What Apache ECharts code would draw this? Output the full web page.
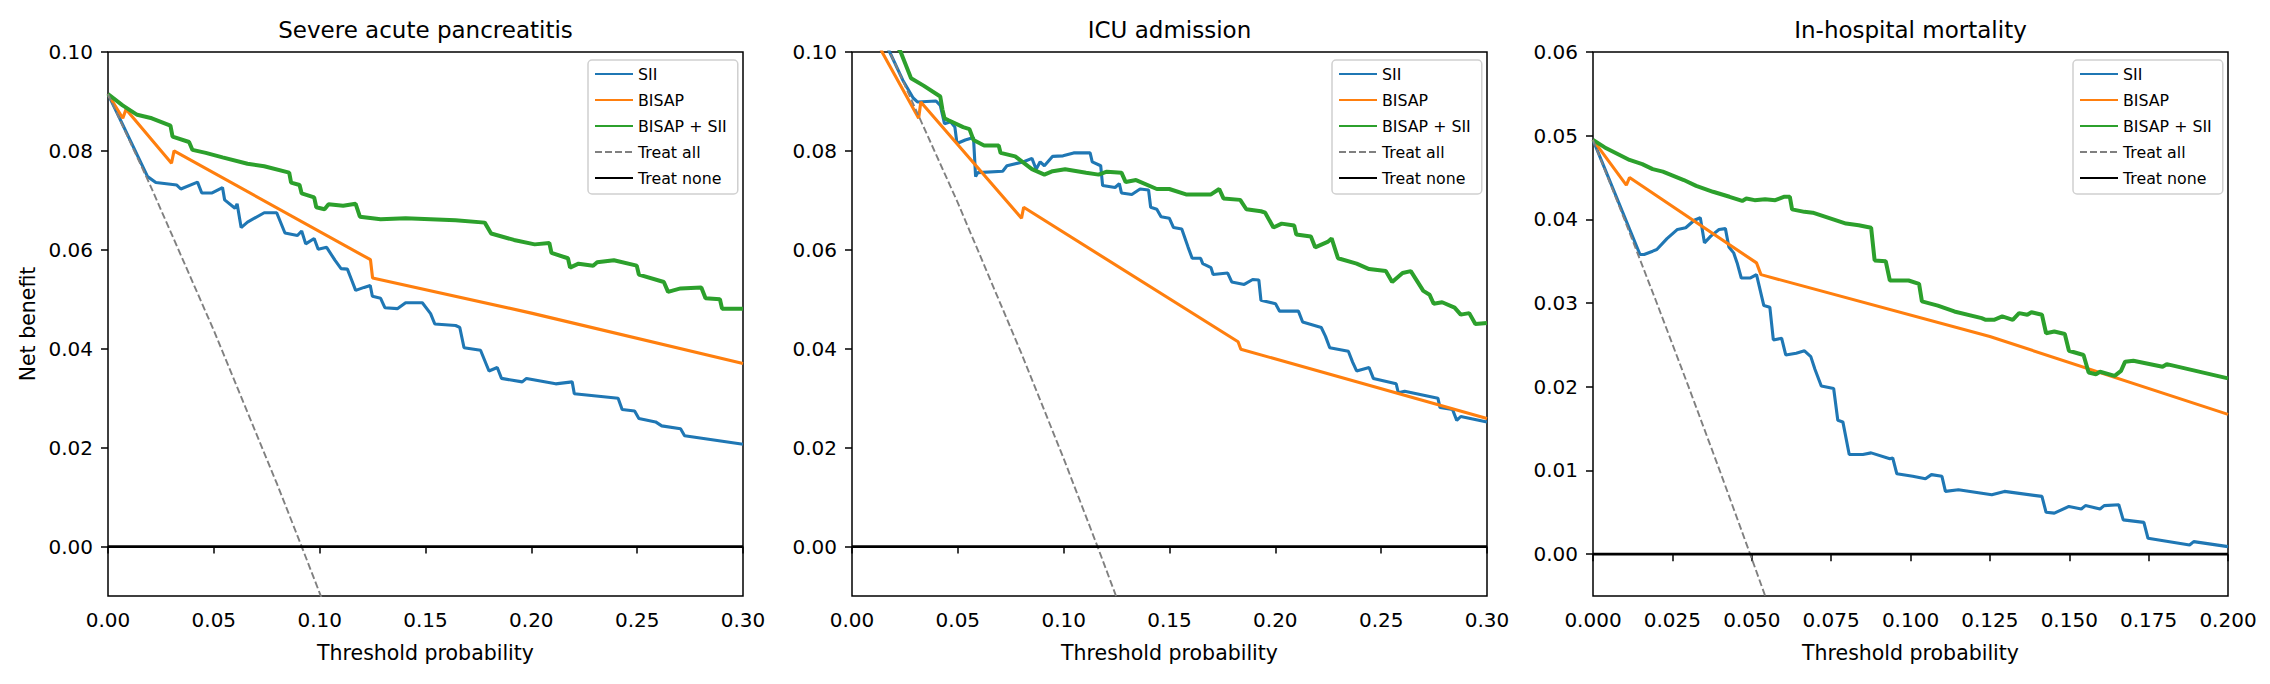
<!DOCTYPE html>
<html><head><meta charset="utf-8">
<script src="https://cdn.jsdelivr.net/npm/echarts@6/dist/echarts.min.js"></script>
<style>html,body{margin:0;padding:0;background:#fff}#c{width:2270px;height:684px}</style>
</head><body><div id="c"></div>
<script>
// ---------- DATA ----------
const panelTitles = ['Severe acute pancreatitis', 'ICU admission', 'In-hospital mortality'];
const seriesNames = ['SII', 'BISAP', 'BISAP + SII', 'Treat all', 'Treat none'];
const xMax = [0.30, 0.30, 0.20];
const xInterval = [0.05, 0.05, 0.025];
const xDecimals = [2, 2, 3];
const yMin = [-0.01, -0.01, -0.005];
const yMax = [0.10, 0.10, 0.06];
const yTickValues = [
  [0.00, 0.02, 0.04, 0.06, 0.08, 0.10],
  [0.00, 0.02, 0.04, 0.06, 0.08, 0.10],
  [0.00, 0.01, 0.02, 0.03, 0.04, 0.05, 0.06]
];

// Panel 1: Severe acute pancreatitis
const sapSII = [[0,0.0915],[0.0187,0.0748],[0.0226,0.0736],[0.0325,0.0731],[0.0344,0.0723],[0.0423,0.0737],[0.0443,0.0715],[0.0492,0.0715],[0.0541,0.0726],[0.0551,0.0701],[0.0600,0.0684],[0.0610,0.0693],[0.0629,0.0645],[0.0659,0.0656],[0.0738,0.0675],[0.0797,0.0675],[0.0836,0.0634],[0.0895,0.0629],[0.0915,0.0638],[0.0934,0.0612],[0.0974,0.0623],[0.0993,0.0601],[0.1033,0.0605],[0.1072,0.0579],[0.1101,0.0562],[0.1131,0.0561],[0.1151,0.0539],[0.1170,0.0518],[0.1210,0.0524],[0.1239,0.0528],[0.1249,0.0506],[0.1288,0.0502],[0.1308,0.0483],[0.1367,0.0481],[0.1406,0.0493],[0.1485,0.0493],[0.1524,0.0471],[0.1544,0.0450],[0.1642,0.0447],[0.1662,0.0443],[0.1682,0.0402],[0.1760,0.0397],[0.1800,0.0355],[0.1839,0.0362],[0.1859,0.0340],[0.1957,0.0333],[0.1977,0.0340],[0.2115,0.0329],[0.2193,0.0333],[0.2203,0.0309],[0.2410,0.0300],[0.2429,0.0277],[0.2488,0.0274],[0.2508,0.0259],[0.2587,0.0252],[0.2616,0.0244],[0.2705,0.0238],[0.2724,0.0224],[0.30,0.0207]];
const sapBISAP = [[0,0.0915],[0.0070,0.0866],[0.0085,0.0884],[0.0300,0.0775],[0.0312,0.0800],[0.1240,0.0580],[0.1250,0.0543],[0.20,0.0472],[0.30,0.0370]];
const sapCombined = [[0,0.0915],[0.0069,0.0892],[0.0138,0.0873],[0.0207,0.0866],[0.0295,0.0851],[0.0305,0.0829],[0.0383,0.0818],[0.0399,0.0802],[0.0462,0.0796],[0.0541,0.0787],[0.0659,0.0774],[0.0738,0.0769],[0.0856,0.0756],[0.0865,0.0736],[0.0905,0.0731],[0.0915,0.0714],[0.0974,0.0706],[0.0984,0.0686],[0.1023,0.0682],[0.1042,0.0692],[0.1111,0.0689],[0.1170,0.0693],[0.1190,0.0667],[0.1288,0.0662],[0.1406,0.0664],[0.1524,0.0662],[0.1642,0.0660],[0.1780,0.0655],[0.1810,0.0633],[0.1918,0.0620],[0.2016,0.0611],[0.2085,0.0614],[0.2095,0.0594],[0.2173,0.0583],[0.2183,0.0564],[0.2223,0.0572],[0.2292,0.0568],[0.2311,0.0575],[0.2390,0.0579],[0.2498,0.0568],[0.2508,0.0550],[0.2626,0.0535],[0.2646,0.0515],[0.2705,0.0522],[0.2803,0.0524],[0.2823,0.0502],[0.2891,0.0500],[0.2901,0.0481],[0.30,0.0481]];
const sapTreatAll = [[0,0.0915],[0.02,0.0730],[0.05,0.0437],[0.08,0.0125],[0.0915,0],[0.10,-0.0094],[0.102,-0.0116]];

// Panel 2: ICU admission
const icuSII = [[0,0.116],[0.0178,0.1000],[0.0240,0.0943],[0.0289,0.0907],[0.0309,0.0899],[0.0397,0.0901],[0.0417,0.0892],[0.0437,0.0855],[0.0466,0.0859],[0.0486,0.0848],[0.0496,0.0815],[0.0535,0.0822],[0.0574,0.0827],[0.0584,0.0748],[0.0594,0.0756],[0.0712,0.0759],[0.0732,0.0770],[0.0811,0.0778],[0.0850,0.0785],[0.0870,0.0763],[0.0889,0.0778],[0.0909,0.0770],[0.0948,0.0789],[0.0997,0.0790],[0.1047,0.0796],[0.1125,0.0796],[0.1135,0.0778],[0.1175,0.0770],[0.1184,0.0730],[0.1243,0.0726],[0.1263,0.0734],[0.1273,0.0715],[0.1322,0.0712],[0.1361,0.0723],[0.1401,0.0721],[0.1411,0.0686],[0.1440,0.0682],[0.1460,0.0667],[0.1499,0.0664],[0.1519,0.0645],[0.1558,0.0642],[0.1588,0.0605],[0.1607,0.0583],[0.1647,0.0583],[0.1657,0.0572],[0.1696,0.0564],[0.1706,0.0550],[0.1775,0.0553],[0.1794,0.0535],[0.1853,0.0530],[0.1893,0.0540],[0.1922,0.0539],[0.1932,0.0498],[0.2001,0.0491],[0.2020,0.0476],[0.2109,0.0476],[0.2129,0.0454],[0.2217,0.0443],[0.2237,0.0425],[0.2257,0.0402],[0.2345,0.0395],[0.2365,0.0373],[0.2384,0.0355],[0.2443,0.0362],[0.2463,0.0340],[0.2571,0.0329],[0.2581,0.0311],[0.2611,0.0314],[0.2768,0.0300],[0.2778,0.0281],[0.2837,0.0277],[0.2857,0.0255],[0.2876,0.0263],[0.30,0.0252]];
const icuBISAP = [[0,0.116],[0.0142,0.1000],[0.0315,0.0866],[0.0325,0.0899],[0.0801,0.0664],[0.0811,0.0686],[0.1824,0.0414],[0.1837,0.0399],[0.30,0.0259]];
const icuCombined = [[0,0.116],[0.0230,0.1000],[0.0279,0.0947],[0.0338,0.0932],[0.0417,0.0910],[0.0427,0.0884],[0.0437,0.0866],[0.0456,0.0862],[0.0525,0.0848],[0.0555,0.0844],[0.0574,0.0822],[0.0624,0.0811],[0.0693,0.0811],[0.0702,0.0796],[0.0771,0.0789],[0.0850,0.0763],[0.0909,0.0752],[0.0948,0.0759],[0.1007,0.0763],[0.1106,0.0756],[0.1165,0.0752],[0.1204,0.0758],[0.1273,0.0756],[0.1293,0.0737],[0.1342,0.0741],[0.1440,0.0723],[0.1499,0.0723],[0.1578,0.0712],[0.1696,0.0712],[0.1735,0.0723],[0.1755,0.0704],[0.1834,0.0701],[0.1863,0.0682],[0.1932,0.0678],[0.1952,0.0675],[0.1991,0.0645],[0.2030,0.0653],[0.2089,0.0649],[0.2099,0.0631],[0.2168,0.0627],[0.2188,0.0605],[0.2247,0.0616],[0.2266,0.0623],[0.2296,0.0583],[0.2384,0.0572],[0.2443,0.0561],[0.2522,0.0557],[0.2552,0.0535],[0.2601,0.0553],[0.2640,0.0557],[0.2699,0.0517],[0.2729,0.0509],[0.2748,0.0491],[0.2788,0.0494],[0.2847,0.0483],[0.2876,0.0469],[0.2916,0.0472],[0.2945,0.0450],[0.30,0.0452]];
const icuTreatAll = [[0,0.116],[0.02,0.098],[0.05,0.0695],[0.08,0.0391],[0.10,0.0178],[0.116,0],[0.125,-0.0103]];

// Panel 3: In-hospital mortality
const mortSII = [[0,0.0495],[0.0148,0.0358],[0.0161,0.0358],[0.0188,0.0362],[0.0201,0.0364],[0.0233,0.0377],[0.0266,0.0388],[0.0292,0.0390],[0.0319,0.0399],[0.0338,0.0402],[0.0351,0.0372],[0.0371,0.0380],[0.0397,0.0388],[0.0417,0.0389],[0.0428,0.0367],[0.0443,0.0360],[0.0454,0.0348],[0.0467,0.0330],[0.0496,0.0330],[0.0515,0.0334],[0.0538,0.0297],[0.0557,0.0295],[0.0568,0.0256],[0.0594,0.0258],[0.0607,0.0238],[0.0640,0.0240],[0.0666,0.0243],[0.0686,0.0236],[0.0699,0.0221],[0.0719,0.0201],[0.0758,0.0198],[0.0771,0.0160],[0.0787,0.0158],[0.0807,0.0119],[0.0850,0.0119],[0.0876,0.0121],[0.0935,0.0114],[0.0944,0.0115],[0.0957,0.0096],[0.1007,0.0093],[0.1047,0.0090],[0.1066,0.0095],[0.1099,0.0093],[0.1110,0.0075],[0.1151,0.0077],[0.1256,0.0071],[0.1296,0.0075],[0.1414,0.0069],[0.1427,0.0050],[0.1453,0.0049],[0.1499,0.0057],[0.1538,0.0054],[0.1551,0.0058],[0.1597,0.0054],[0.1610,0.0058],[0.1656,0.0059],[0.1670,0.0041],[0.1735,0.0038],[0.1748,0.0019],[0.1879,0.0011],[0.1892,0.0015],[0.20,0.0009]];
const mortBISAP = [[0,0.0495],[0.0105,0.0441],[0.0115,0.0450],[0.0515,0.0348],[0.0529,0.0334],[0.125,0.0260],[0.20,0.0167]];
const mortCombined = [[0,0.0495],[0.0037,0.0486],[0.0115,0.0471],[0.0155,0.0466],[0.0188,0.0460],[0.0220,0.0457],[0.0286,0.0447],[0.0325,0.0440],[0.0378,0.0433],[0.0430,0.0427],[0.0470,0.0422],[0.0483,0.0425],[0.0509,0.0423],[0.0542,0.0424],[0.0574,0.0423],[0.0601,0.0427],[0.0620,0.0427],[0.0627,0.0412],[0.0666,0.0409],[0.0692,0.0408],[0.0797,0.0395],[0.0837,0.0393],[0.0876,0.0390],[0.0887,0.0351],[0.0922,0.0350],[0.0935,0.0327],[0.0974,0.0327],[0.0994,0.0327],[0.1027,0.0323],[0.1036,0.0302],[0.1086,0.0297],[0.1138,0.0290],[0.1224,0.0282],[0.1237,0.0280],[0.1263,0.0280],[0.1289,0.0284],[0.1322,0.0280],[0.1342,0.0288],[0.1368,0.0286],[0.1381,0.0289],[0.1414,0.0286],[0.1427,0.0264],[0.1453,0.0266],[0.1486,0.0263],[0.1499,0.0243],[0.1545,0.0238],[0.1561,0.0217],[0.1584,0.0215],[0.1597,0.0218],[0.1643,0.0213],[0.1663,0.0219],[0.1676,0.0230],[0.1702,0.0231],[0.1794,0.0224],[0.1807,0.0227],[0.20,0.0210]];
const mortTreatAll = [[0,0.0495],[0.01,0.0399],[0.02,0.0301],[0.03,0.0201],[0.04,0.0099],[0.0495,0],[0.055,-0.0058]];

// ---------- LAYOUT / STYLE ----------
const FONT = 'DejaVu Sans';
const gridLeft = [108, 852, 1593];
const gridTop = 52, gridW = 635, gridH = 544;
const colors = ['#1f77b4', '#ff7f0e', '#2ca02c', '#808080', '#000000'];
const widths = [3.1, 3.1, 4.0, 1.9, 2.7];
const panelData = [
  [sapSII, sapBISAP, sapCombined, sapTreatAll],
  [icuSII, icuBISAP, icuCombined, icuTreatAll],
  [mortSII, mortBISAP, mortCombined, mortTreatAll]
];

const grids = [], xAxes = [], yAxes = [], series = [], legends = [], graphics = [];
for (let i = 0; i < 3; i++) {
  grids.push({left: gridLeft[i], top: gridTop, width: gridW, height: gridH,
    show: true, borderColor: '#000', borderWidth: 1.5, backgroundColor: 'transparent'});
  xAxes.push({type: 'value', gridIndex: i, min: 0, max: xMax[i], interval: xInterval[i],
    name: 'Threshold probability', nameLocation: 'middle', nameGap: 46,
    nameTextStyle: {fontFamily: FONT, fontSize: 20.5, color: '#000'},
    axisLine: {show: false}, splitLine: {show: false},
    axisTick: {show: true, length: 7, lineStyle: {color: '#000', width: 1.5}},
    axisLabel: {show: true, margin: 14, fontFamily: FONT, fontSize: 20, color: '#000',
      showMinLabel: true, showMaxLabel: true,
      formatter: (v) => Number(v).toFixed(xDecimals[i])}});
  yAxes.push({type: 'value', gridIndex: i, min: yMin[i], max: yMax[i],
    name: i === 0 ? 'Net benefit' : '', nameLocation: 'middle', nameGap: 70,
    nameTextStyle: {fontFamily: FONT, fontSize: 20.5, color: '#000'},
    axisLine: {show: false}, splitLine: {show: false},
    axisTick: {show: true, length: 7, lineStyle: {color: '#000', width: 1.5}, customValues: yTickValues[i]},
    axisLabel: {show: true, margin: 15, fontFamily: FONT, fontSize: 20, color: '#000',
      customValues: yTickValues[i], formatter: (v) => Number(v).toFixed(2)}});
  const data = panelData[i].concat([[[0, 0], [xMax[i], 0]]]);
  for (let k = 0; k < 5; k++) {
    series.push({type: 'line', name: seriesNames[k], xAxisIndex: i, yAxisIndex: i,
      data: data[k], symbol: 'none', showSymbol: false, clip: true, animation: false,
      color: colors[k], z: 2 + k,
      lineStyle: {color: colors[k], width: widths[k], type: k === 3 ? [7, 3] : 'solid'}});
  }
  legends.push({orient: 'vertical', left: gridLeft[i] + gridW - 155, top: 60,
    data: seriesNames, selectedMode: false,
    itemWidth: 38, itemHeight: 15, itemGap: 10,
    padding: [6, 11, 8, 6], backgroundColor: 'rgba(255,255,255,0.8)',
    borderColor: '#d0d0d0', borderWidth: 1.5, borderRadius: 4,
    itemStyle: {opacity: 0},
    textStyle: {fontFamily: FONT, fontSize: 15.8, color: '#000'}});
  graphics.push({type: 'text', x: gridLeft[i] + gridW / 2, y: 30,
    style: {text: panelTitles[i], fontFamily: FONT, fontSize: 23, fill: '#000',
      textAlign: 'center', textVerticalAlign: 'middle'}});
}

const chart = echarts.init(document.getElementById('c'), null, {renderer: 'svg'});
chart.setOption({
  animation: false,
  backgroundColor: '#fff',
  textStyle: {fontFamily: FONT},
  grid: grids, xAxis: xAxes, yAxis: yAxes, series: series, legend: legends,
  graphic: graphics
});
</script></body></html>
